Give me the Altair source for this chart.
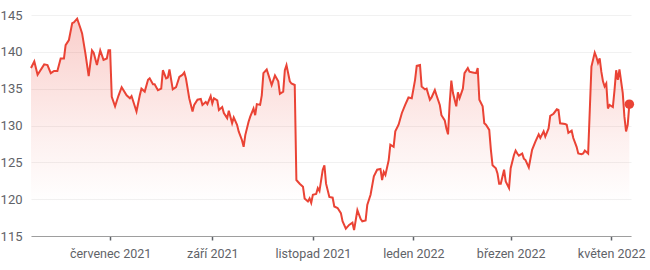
import altair as alt
import pandas as pd

dates = [
    "2021-05-14","2021-05-16","2021-05-18","2021-05-22","2021-05-24","2021-05-26","2021-05-28","2021-05-30",
    "2021-06-01","2021-06-03","2021-06-04","2021-06-06","2021-06-08","2021-06-09","2021-06-11","2021-06-13",
    "2021-06-14","2021-06-16","2021-06-18","2021-06-20","2021-06-21","2021-06-23","2021-06-25","2021-06-27",
    "2021-06-29","2021-06-30","2021-07-01","2021-07-02","2021-07-04","2021-07-06","2021-07-08","2021-07-11",
    "2021-07-13","2021-07-14","2021-07-17","2021-07-19","2021-07-20","2021-07-22","2021-07-24","2021-07-25",
    "2021-07-27","2021-07-28","2021-07-30","2021-08-01","2021-08-02","2021-08-04","2021-08-05","2021-08-06",
    "2021-08-08","2021-08-10","2021-08-12","2021-08-14","2021-08-15","2021-08-16","2021-08-18","2021-08-20",
    "2021-08-21","2021-08-23","2021-08-25","2021-08-26","2021-08-28","2021-08-29","2021-08-31","2021-09-01",
    "2021-09-02","2021-09-04","2021-09-05","2021-09-07","2021-09-08","2021-09-10","2021-09-11","2021-09-13",
    "2021-09-14","2021-09-16","2021-09-17","2021-09-19","2021-09-20","2021-09-21","2021-09-23","2021-09-24",
    "2021-09-26","2021-09-27","2021-09-28","2021-09-30","2021-10-01","2021-10-02","2021-10-04","2021-10-05",
    "2021-10-07","2021-10-09","2021-10-11","2021-10-12","2021-10-14","2021-10-15","2021-10-16","2021-10-18",
    "2021-10-19","2021-10-21","2021-10-22","2021-10-24","2021-10-26","2021-10-27","2021-10-29","2021-10-30",
    "2021-10-31","2021-11-01","2021-11-03","2021-11-04","2021-11-05","2021-11-07","2021-11-08","2021-11-09",
    "2021-11-11","2021-11-13","2021-11-14","2021-11-16","2021-11-18","2021-11-19","2021-11-21","2021-11-23",
    "2021-11-25","2021-11-26","2021-11-28","2021-11-30","2021-12-01","2021-12-03","2021-12-04","2021-12-06",
    "2021-12-08","2021-12-10","2021-12-12","2021-12-13","2021-12-14","2021-12-15","2021-12-17","2021-12-18",
    "2021-12-20","2021-12-21","2021-12-23","2021-12-25","2021-12-27","2021-12-29","2021-12-31","2022-01-02",
    "2022-01-03","2022-01-05","2022-01-06","2022-01-08","2022-01-09","2022-01-11","2022-01-12","2022-01-14",
    "2022-01-15","2022-01-17","2022-01-18","2022-01-20","2022-01-21","2022-01-22","2022-01-23","2022-01-24",
    "2022-01-25","2022-01-27","2022-01-28","2022-01-29","2022-01-31","2022-02-01","2022-02-03","2022-02-04",
    "2022-02-06","2022-02-08","2022-02-09","2022-02-10","2022-02-12","2022-02-13","2022-02-14","2022-02-16",
    "2022-02-17","2022-02-18","2022-02-20","2022-02-21","2022-02-22","2022-02-23","2022-02-25","2022-02-26",
    "2022-02-28","2022-03-01","2022-03-03","2022-03-04","2022-03-05","2022-03-06","2022-03-08","2022-03-09",
    "2022-03-10","2022-03-12","2022-03-14","2022-03-16","2022-03-18","2022-03-19","2022-03-21","2022-03-22",
    "2022-03-24","2022-03-25","2022-03-27","2022-03-29","2022-03-30","2022-03-31","2022-04-03","2022-04-04",
    "2022-04-05","2022-04-07","2022-04-08","2022-04-10","2022-04-11","2022-04-13","2022-04-14","2022-04-15",
    "2022-04-17","2022-04-18","2022-04-19","2022-04-21","2022-04-22","2022-04-23","2022-04-24","2022-04-25",
    "2022-04-26","2022-04-27","2022-04-28","2022-04-29","2022-04-30","2022-05-02","2022-05-03","2022-05-04",
    "2022-05-05","2022-05-06","2022-05-08","2022-05-09","2022-05-10","2022-05-11","2022-05-12",
]

prices = [
    137.8,138.7,136.9,138.3,138.2,137.1,137.4,137.4,
    139.1,139.1,140.9,141.6,143.9,144.0,144.5,143.2,
    142.5,139.8,136.7,140.2,139.9,138.2,140.2,138.9,
    139.1,140.2,140.2,133.9,132.6,134.0,135.2,134.1,
    133.7,134.0,131.9,134.1,135.0,134.6,136.2,136.4,
    135.6,135.6,134.8,135.0,137.5,136.4,136.5,137.6,
    134.9,135.2,136.6,136.9,137.2,136.4,133.7,131.9,
    132.8,133.5,133.6,132.8,133.2,132.9,134.0,133.0,
    133.7,133.4,132.1,132.5,131.7,131.0,132.0,130.3,
    131.1,130.1,129.2,128.0,127.1,128.7,130.5,131.2,
    132.3,131.4,132.9,132.8,134.1,137.1,137.6,136.9,
    135.5,136.8,136.0,134.3,134.6,137.5,138.2,136.0,
    135.7,135.5,122.6,122.1,121.7,120.1,119.7,120.1,
    119.5,120.6,120.7,121.5,121.1,124.0,124.6,122.1,
    120.3,120.2,119.0,118.8,118.1,117.0,116.0,116.5,
    116.8,115.8,118.5,117.3,117.0,117.1,119.2,120.6,
    123.1,124.0,124.1,122.6,123.7,123.3,125.3,127.4,
    127.1,129.2,130.1,131.7,132.8,133.8,133.7,136.2,
    138.1,138.2,135.3,134.9,135.0,133.5,133.8,134.8,
    134.1,132.8,131.4,130.7,129.6,128.8,133.0,136.1,
    134.4,132.6,134.5,133.7,135.0,137.1,137.8,137.3,
    137.2,137.1,137.8,133.5,132.6,130.3,130.1,129.4,
    126.7,124.6,124.2,123.5,122.1,122.1,124.0,122.4,
    121.5,124.2,126.0,126.6,126.2,125.9,126.2,125.5,
    125.3,124.3,126.7,127.8,128.8,128.3,129.2,128.5,
    129.6,131.3,131.6,132.2,132.1,130.3,130.2,130.1,
    129.0,129.3,128.3,127.1,126.2,126.1,126.2,126.6,
    126.2,132.1,138.0,139.9,139.3,138.5,139.1,137.3,
    136.0,135.3,135.7,132.3,132.8,132.5,134.8,137.5,
    136.2,137.6,134.4,131.2,129.2,130.1,132.9,
]

y_ticks = [115, 120, 125, 130, 135, 140, 145]
x_tick_dates = [(2021, 7), (2021, 9), (2021, 11), (2022, 1), (2022, 3), (2022, 5)]
cz_months = ["leden", "únor", "březen", "duben", "květen", "červen",
             "červenec", "srpen", "září", "říjen", "listopad", "prosinec"]

df = pd.DataFrame({"date": dates, "price": prices})
last = df.tail(1)

RED = "#ea4335"
FONT = "Roboto"

month_arr = "[" + ",".join("'" + m + "'" for m in cz_months) + "]"
label_expr = month_arr + "[utcmonth(datum.value)] + ' ' + utcyear(datum.value)"

x_enc = alt.X(
    "date:T",
    scale=alt.Scale(
        type="utc",
        domain=[alt.DateTime(year=2021, month=5, date=14, utc=True),
                alt.DateTime(year=2022, month=5, date=13, utc=True)],
        nice=False,
    ),
    axis=alt.Axis(
        values=[alt.DateTime(year=y, month=m, date=1, utc=True) for y, m in x_tick_dates],
        labelExpr=label_expr,
        title=None,
        grid=False,
        domainColor="#9e9e9e",
        domainWidth=1.2,
        tickColor="#5f6368",
        tickSize=4,
        tickWidth=1.5,
        labelPadding=7,
        labelColor="#5f6368",
        labelFont=FONT,
        labelFontSize=12.5,
        labelFlush=False,
    ),
)

y_enc = alt.Y(
    "price:Q",
    scale=alt.Scale(domain=[115, 145], nice=False, zero=False),
    axis=alt.Axis(
        values=y_ticks,
        title=None,
        domain=False,
        ticks=False,
        gridColor="#f1f1f1",
        gridWidth=1,
        labelPadding=9,
        labelColor="#5f6368",
        labelFont=FONT,
        labelFontSize=13,
    ),
)

area = alt.Chart(df).mark_area(
    color=alt.Gradient(
        gradient="linear",
        stops=[
            alt.GradientStop(color="rgba(234,67,53,0.26)", offset=0),
            alt.GradientStop(color="rgba(234,67,53,0.08)", offset=0.55),
            alt.GradientStop(color="rgba(234,67,53,0.0)", offset=0.85),
        ],
        x1=1, x2=1, y1=0, y2=1,
    ),
    interpolate="linear",
).encode(x=x_enc, y=y_enc, y2=alt.datum(115))

line = alt.Chart(df).mark_line(color=RED, strokeWidth=2).encode(x=x_enc, y=y_enc)

dot = alt.Chart(last).mark_circle(color=RED, size=90, opacity=1).encode(x=x_enc, y=y_enc)

chart = alt.layer(area, line, dot).properties(
    width=600,
    height=221,
    padding={"left": 31, "top": 15, "right": 19, "bottom": 34},
    autosize=alt.AutoSizeParams(type="none"),
    background="white",
).configure_view(stroke=None)

chart.save("out.html", embed_options={"renderer": "svg", "actions": False})
